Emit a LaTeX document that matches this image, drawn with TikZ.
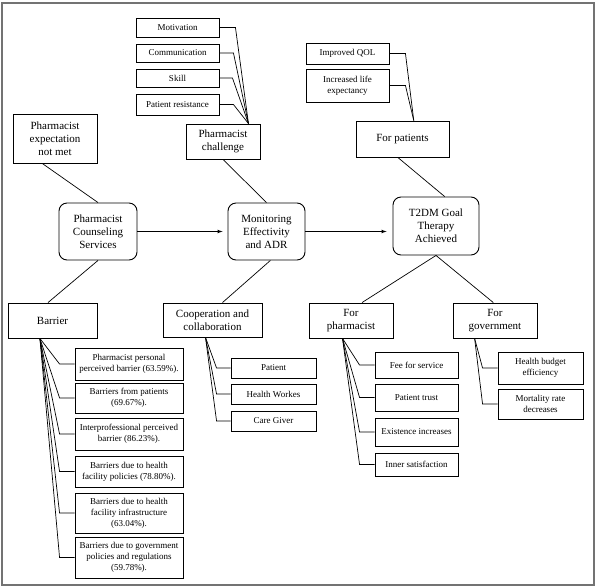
\documentclass[tikz,border=0pt]{standalone}
\usepackage{fontspec}
\setmainfont{Liberation Serif}
\usetikzlibrary{calc}

\begin{document}
\begin{tikzpicture}[x=1pt, y=-1pt,
	bigbox/.style={draw, line width=0.9pt, align=center, inner sep=1pt, font=\rmfamily\fontsize{11}{13}\selectfont},
	roundbox/.style={bigbox, rounded corners=8pt},
	smallbox/.style={draw, line width=0.9pt, align=center, inner sep=1pt, font=\rmfamily\fontsize{9}{11}\selectfont},
	link/.style={line width=0.7pt}]
			%%%%% START %%%%%
			
			\useasboundingbox (0, 0) rectangle (597, 587);
			\draw[line width=1.6pt, color=black!55] (2, 3) rectangle (594, 585);
			
			\node[roundbox, minimum width=78pt, minimum height=57pt] (couns) at (98, 231.5) {Pharmacist\\Counseling\\Services};
			\node[roundbox, minimum width=77pt, minimum height=57pt] (moni) at (266.5, 231.5) {Monitoring\\Effectivity\\and ADR};
			\node[roundbox, minimum width=86pt, minimum height=58pt] (goal) at (436, 226) {T2DM Goal\\Therapy\\Achieved};
			
			\node[bigbox, minimum width=84pt, minimum height=49pt] (expect) at (55, 138.5) {Pharmacist\\expectation\\not met};
			\node[bigbox, minimum width=74pt, minimum height=35pt] (chall) at (223, 141.5) {Pharmacist\\challenge};
			\node[bigbox, minimum width=93pt, minimum height=36pt] (forpat) at (402.5, 139) {For patients};
			
			\node[bigbox, minimum width=89pt, minimum height=35pt] (barr) at (52.5, 320.5) {Barrier};
			\node[bigbox, minimum width=99pt, minimum height=34pt] (coop) at (212.5, 320) {Cooperation and\\collaboration};
			\node[bigbox, minimum width=84pt, minimum height=35pt] (forpha) at (351, 320.5) {For\\pharmacist};
			\node[bigbox, minimum width=84pt, minimum height=35pt] (forgov) at (495, 320.5) {For\\government};
			
			\draw[link, -latex, shorten >=5pt] (couns.east) -- (moni.west);
			\draw[link, -latex, shorten >=6pt] (moni.east) -- (goal.west |- moni.east);
			
			\draw[link] ($(expect.south west)!0.35!(expect.south east)$) -- (couns.north);
			\draw[link] (chall.south) -- (moni.north);
			\draw[link] ($(forpat.south west)!0.45!(forpat.south east)$) -- ($(goal.north west)!0.6!(goal.north east)$);
			\draw[link] (couns.south) -- ($(barr.north west)!0.45!(barr.north east)$);
			\draw[link] ($(moni.south west)!0.55!(moni.south east)$) -- ($(coop.north west)!0.6!(coop.north east)$);
			\draw[link] (goal.south) -- ($(forpha.north west)!0.63!(forpha.north east)$);
			\draw[link] (goal.south) -- ($(forgov.north west)!0.48!(forgov.north east)$);
			
			% challenge
			\node[smallbox, minimum width=83pt, minimum height=19pt] (motiv) at (177.5, 27.5) {Motivation};
			\node[smallbox, minimum width=83pt, minimum height=18pt] (commu) at (177.5, 53) {Communication};
			\node[smallbox, minimum width=83pt, minimum height=18pt] (skill) at (177.5, 78) {Skill};
			\node[smallbox, minimum width=83pt, minimum height=21pt] (resist) at (177.5, 104.5) {Patient resistance};
			\coordinate (chtop) at ($(chall.north west)!0.84!(chall.north east)$);
			\foreach \b/\e in {motiv/16, commu/14, skill/13, resist/14}
				\draw[link] (\b.east) -- ([xshift=\e pt]\b.east) -- (chtop);
			
			% patients
			\node[smallbox, minimum width=83pt, minimum height=21pt] (qol) at (347.5, 53.5) {Improved QOL};
			\node[smallbox, minimum width=83pt, minimum height=33pt] (life) at (347.5, 85.5) {Increased life\\expectancy};
			\coordinate (pttop) at ($(forpat.north west)!0.62!(forpat.north east)$);
			\foreach \b in {qol, life}
				\draw[link] (\b.east) -- ([xshift=16pt]\b.east) -- (pttop);
			
			% barrier
			\node[smallbox, minimum width=108pt, minimum height=32pt] (bar1) at (129, 364) {Pharmacist personal\\perceived barrier (63.59\%).};
			\node[smallbox, minimum width=108pt, minimum height=30pt] (bar2) at (129, 398) {Barriers from patients\\(69.67\%).};
			\node[smallbox, minimum width=108pt, minimum height=32pt] (bar3) at (129, 434) {Interprofessional perceived\\barrier (86.23\%).};
			\node[smallbox, minimum width=108pt, minimum height=31pt] (bar4) at (129, 471.5) {Barriers due to health\\facility policies (78.80\%).};
			\node[smallbox, minimum width=108pt, minimum height=40pt] (bar5) at (129, 513) {Barriers due to health\\facility infrastructure\\(63.04\%).};
			\node[smallbox, minimum width=108pt, minimum height=41pt] (bar6) at (129, 557.5) {Barriers due to government\\policies and regulations\\(59.78\%).};
			\coordinate (brbot) at ($(barr.south west)!0.36!(barr.south east)$);
			\foreach \b in {bar1, bar2, bar3, bar4, bar5, bar6}
				\draw[link] (brbot) -- ([xshift=-15pt]\b.west) -- (\b.west);
			
			% cooperation
			\node[smallbox, minimum width=85pt, minimum height=20pt] (cpat) at (273.5, 368) {Patient};
			\node[smallbox, minimum width=85pt, minimum height=20pt] (cwork) at (273.5, 394) {Health Workes};
			\node[smallbox, minimum width=85pt, minimum height=20pt] (cgiver) at (273.5, 421) {Care Giver};
			\coordinate (cpbot) at ($(coop.south west)!0.43!(coop.south east)$);
			\foreach \b in {cpat, cwork, cgiver}
				\draw[link] (cpbot) -- ([xshift=-14pt]\b.west) -- (\b.west);
			
			% pharmacist
			\node[smallbox, minimum width=83pt, minimum height=26pt] (fee) at (416.5, 365) {Fee for service};
			\node[smallbox, minimum width=83pt, minimum height=27pt] (trust) at (416.5, 397.5) {Patient trust};
			\node[smallbox, minimum width=83pt, minimum height=28pt] (exist) at (416.5, 432) {Existence increases};
			\node[smallbox, minimum width=83pt, minimum height=23pt] (inner) at (416.5, 464.5) {Inner satisfaction};
			\coordinate (phbot) at ($(forpha.south west)!0.40!(forpha.south east)$);
			\foreach \b in {fee, trust, exist, inner}
				\draw[link] (phbot) -- ([xshift=-15pt]\b.west) -- (\b.west);
			
			% government
			\node[smallbox, minimum width=85pt, minimum height=32pt] (budget) at (540.5, 368) {Health budget\\efficiency};
			\node[smallbox, minimum width=85pt, minimum height=30pt] (mortal) at (540.5, 404) {Mortality rate\\decreases};
			\coordinate (gvbot) at ($(forgov.south west)!0.26!(forgov.south east)$);
			\foreach \b in {budget, mortal}
				\draw[link] (gvbot) -- ([xshift=-15pt]\b.west) -- (\b.west);
			
			%%%%% END %%%%%
\end{tikzpicture}
\end{document}
